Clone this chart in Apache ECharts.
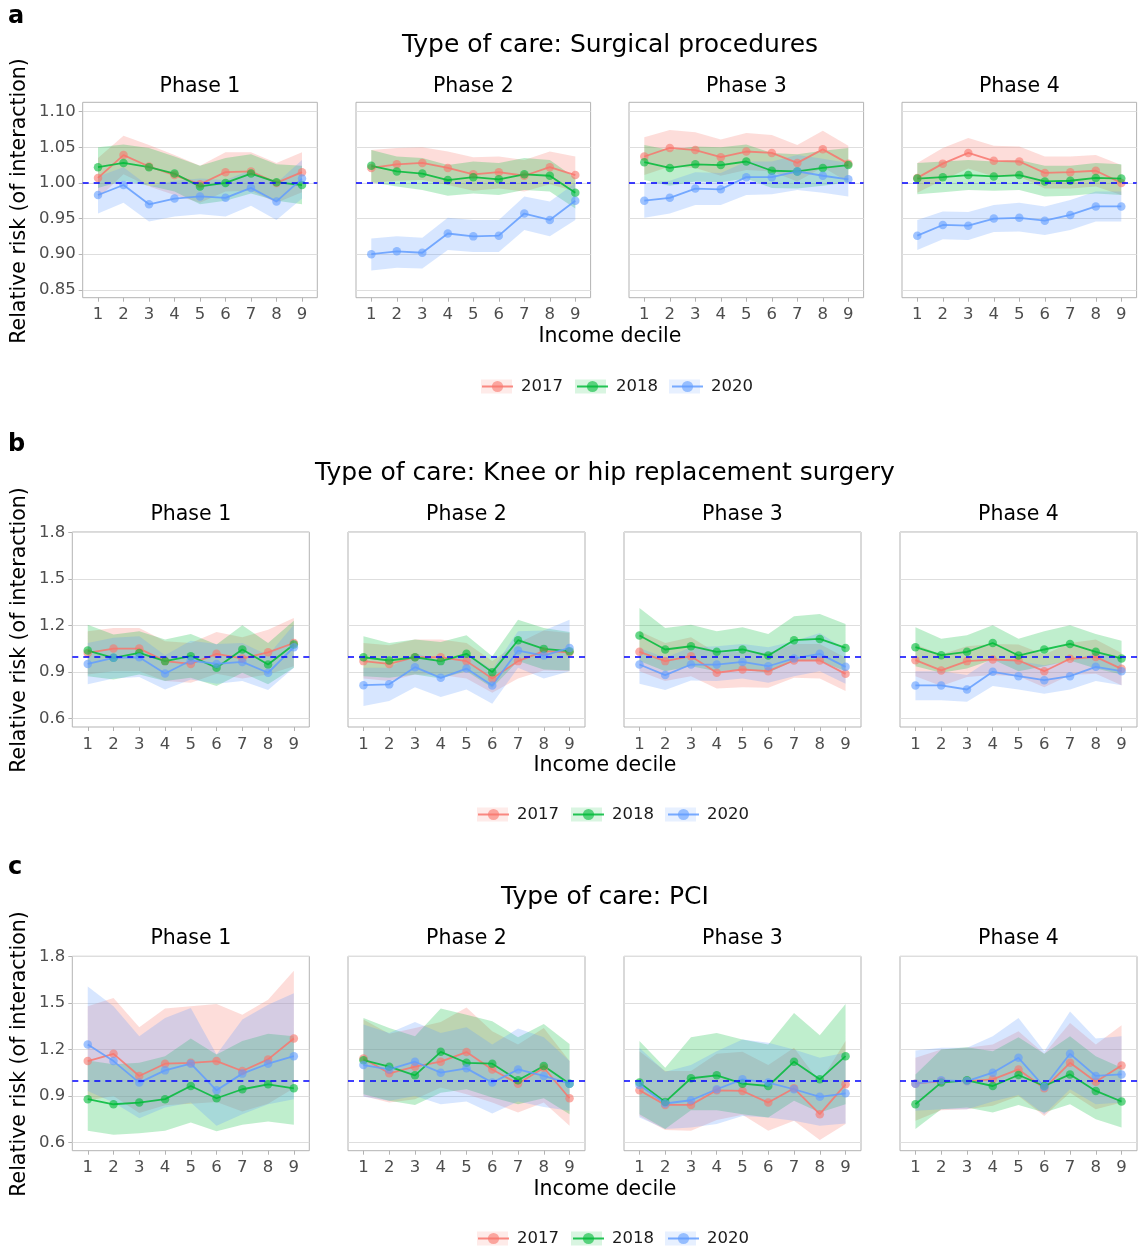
<!DOCTYPE html>
<html>
<head>
<meta charset="utf-8">
<script src="https://cdn.jsdelivr.net/npm/echarts@6/dist/echarts.min.js"></script>
<style>
  html, body { margin: 0; background: #fff; }
  #chart { width: 1141px; height: 1247px; }
</style>
</head>
<body>
<div id="chart"></div>
<script>
var deciles = [1, 2, 3, 4, 5, 6, 7, 8, 9];
var years = ['2017', '2018', '2020'];
var phases = ['Phase 1', 'Phase 2', 'Phase 3', 'Phase 4'];
var ticksA = [0.85, 0.90, 0.95, 1.00, 1.05, 1.10];
var ticksBC = [0.6, 0.9, 1.2, 1.5, 1.8];

// a: surgical procedures  (one row per phase)
var surgEst2017 = [
  [1.007, 1.039, 1.023, 1.011, 0.998, 1.015, 1.016, 1.000, 1.015],
  [1.021, 1.026, 1.028, 1.021, 1.012, 1.015, 1.010, 1.022, 1.011],
  [1.037, 1.049, 1.046, 1.036, 1.044, 1.042, 1.028, 1.047, 1.027],
  [1.007, 1.027, 1.042, 1.031, 1.030, 1.014, 1.015, 1.017, 1.000]];
var surgLo2017 = [
  [0.978, 1.012, 0.995, 0.983, 0.972, 0.988, 0.989, 0.972, 0.987],
  [1.000, 1.003, 1.004, 0.997, 0.989, 0.992, 0.988, 0.998, 0.988],
  [1.011, 1.023, 1.021, 1.010, 1.018, 1.016, 1.002, 1.022, 1.001],
  [0.986, 1.004, 1.020, 1.009, 1.009, 0.992, 0.992, 0.995, 0.983]];
var surgHi2017 = [
  [1.035, 1.066, 1.053, 1.039, 1.024, 1.043, 1.043, 1.028, 1.043],
  [1.046, 1.049, 1.050, 1.044, 1.036, 1.037, 1.032, 1.044, 1.037],
  [1.064, 1.074, 1.071, 1.061, 1.070, 1.067, 1.053, 1.073, 1.052],
  [1.028, 1.049, 1.063, 1.052, 1.051, 1.037, 1.037, 1.039, 1.025]];
var surgEst2018 = [
  [1.022, 1.028, 1.022, 1.013, 0.995, 1.000, 1.013, 1.001, 0.997],
  [1.024, 1.016, 1.013, 1.004, 1.008, 1.005, 1.012, 1.010, 0.986],
  [1.029, 1.021, 1.026, 1.025, 1.030, 1.017, 1.016, 1.021, 1.025],
  [1.006, 1.008, 1.011, 1.009, 1.011, 1.002, 1.003, 1.007, 1.006]];
var surgLo2018 = [
  [0.993, 1.003, 0.996, 0.988, 0.970, 0.975, 0.985, 0.975, 0.970],
  [1.001, 0.995, 0.990, 0.982, 0.985, 0.983, 0.990, 0.988, 0.964],
  [1.004, 0.996, 1.002, 1.001, 1.006, 0.993, 0.992, 0.996, 1.001],
  [0.984, 0.987, 0.990, 0.989, 0.990, 0.981, 0.982, 0.985, 0.983]];
var surgHi2018 = [
  [1.050, 1.054, 1.049, 1.037, 1.024, 1.035, 1.040, 1.026, 1.024],
  [1.046, 1.037, 1.035, 1.025, 1.030, 1.028, 1.035, 1.032, 1.007],
  [1.053, 1.046, 1.051, 1.050, 1.054, 1.042, 1.040, 1.045, 1.049],
  [1.028, 1.030, 1.032, 1.030, 1.032, 1.024, 1.024, 1.028, 1.026]];
var surgEst2020 = [
  [0.983, 0.997, 0.970, 0.978, 0.981, 0.979, 0.993, 0.974, 1.006],
  [0.900, 0.904, 0.902, 0.929, 0.925, 0.926, 0.957, 0.948, 0.975],
  [0.975, 0.979, 0.992, 0.991, 1.008, 1.008, 1.016, 1.010, 1.005],
  [0.926, 0.941, 0.940, 0.950, 0.951, 0.947, 0.955, 0.967, 0.967]];
var surgLo2020 = [
  [0.957, 0.972, 0.946, 0.953, 0.956, 0.953, 0.968, 0.948, 0.978],
  [0.877, 0.881, 0.880, 0.906, 0.903, 0.903, 0.934, 0.925, 0.948],
  [0.951, 0.957, 0.969, 0.969, 0.983, 0.984, 0.990, 0.986, 0.981],
  [0.906, 0.921, 0.920, 0.931, 0.932, 0.927, 0.934, 0.946, 0.946]];
var surgHi2020 = [
  [1.009, 1.022, 0.995, 1.003, 1.006, 1.004, 1.018, 1.000, 1.032],
  [0.922, 0.925, 0.923, 0.951, 0.948, 0.948, 0.981, 0.974, 1.000],
  [1.000, 1.003, 1.015, 1.014, 1.030, 1.030, 1.039, 1.034, 1.028],
  [0.948, 0.960, 0.959, 0.969, 0.972, 0.967, 0.976, 0.988, 0.988]];

// b: knee or hip replacement
var kneeEst2017 = [
  [1.022, 1.050, 1.050, 0.969, 0.951, 1.016, 0.986, 1.026, 1.086],
  [0.969, 0.951, 0.994, 0.994, 0.969, 0.857, 0.969, 1.033, 1.026],
  [1.029, 0.969, 1.001, 0.894, 0.915, 0.904, 0.973, 0.973, 0.887],
  [0.975, 0.909, 0.969, 0.979, 0.973, 0.904, 0.984, 0.996, 0.919]];
var kneeLo2017 = [
  [0.883, 0.904, 0.904, 0.840, 0.829, 0.887, 0.857, 0.883, 0.936],
  [0.857, 0.840, 0.883, 0.879, 0.857, 0.765, 0.857, 0.909, 0.904],
  [0.904, 0.840, 0.872, 0.793, 0.801, 0.797, 0.861, 0.857, 0.776],
  [0.872, 0.808, 0.866, 0.879, 0.872, 0.801, 0.879, 0.887, 0.814]];
var kneeHi2017 = [
  [1.161, 1.183, 1.183, 1.097, 1.086, 1.157, 1.123, 1.172, 1.247],
  [1.086, 1.071, 1.108, 1.108, 1.086, 0.969, 1.086, 1.166, 1.151],
  [1.161, 1.086, 1.123, 1.022, 1.033, 1.022, 1.080, 1.080, 0.990],
  [1.076, 1.011, 1.065, 1.080, 1.076, 1.011, 1.086, 1.108, 1.022]];
var kneeEst2018 = [
  [1.037, 0.990, 1.022, 0.969, 1.001, 0.926, 1.044, 0.947, 1.076],
  [0.994, 0.973, 0.994, 0.969, 1.016, 0.898, 1.104, 1.048, 1.033],
  [1.134, 1.044, 1.065, 1.029, 1.044, 1.005, 1.104, 1.112, 1.054],
  [1.059, 1.007, 1.029, 1.086, 1.005, 1.044, 1.080, 1.029, 0.986]];
var kneeLo2018 = [
  [0.872, 0.851, 0.883, 0.840, 0.861, 0.808, 0.894, 0.819, 0.926],
  [0.872, 0.861, 0.883, 0.857, 0.904, 0.797, 0.969, 0.915, 0.909],
  [0.969, 0.904, 0.936, 0.904, 0.915, 0.894, 0.969, 0.969, 0.904],
  [0.936, 0.894, 0.921, 0.979, 0.904, 0.936, 0.973, 0.921, 0.883]];
var kneeHi2018 = [
  [1.204, 1.140, 1.161, 1.108, 1.144, 1.076, 1.200, 1.086, 1.230],
  [1.129, 1.086, 1.108, 1.093, 1.136, 1.001, 1.236, 1.183, 1.157],
  [1.311, 1.183, 1.204, 1.161, 1.187, 1.144, 1.258, 1.273, 1.209],
  [1.187, 1.114, 1.136, 1.200, 1.114, 1.161, 1.200, 1.144, 1.101]];
var kneeEst2020 = [
  [0.951, 0.990, 0.994, 0.889, 0.973, 0.951, 0.964, 0.894, 1.059],
  [0.814, 0.819, 0.930, 0.861, 0.921, 0.812, 1.037, 1.005, 1.054],
  [0.947, 0.879, 0.947, 0.947, 0.964, 0.936, 0.986, 1.016, 0.932],
  [0.812, 0.812, 0.786, 0.900, 0.872, 0.846, 0.872, 0.932, 0.904]];
var kneeLo2020 = [
  [0.819, 0.857, 0.866, 0.786, 0.851, 0.823, 0.840, 0.782, 0.926],
  [0.679, 0.711, 0.801, 0.737, 0.786, 0.694, 0.926, 0.857, 0.904],
  [0.823, 0.782, 0.844, 0.840, 0.857, 0.829, 0.872, 0.904, 0.823],
  [0.716, 0.716, 0.707, 0.808, 0.786, 0.759, 0.786, 0.840, 0.814]];
var kneeHi2020 = [
  [1.086, 1.119, 1.129, 1.007, 1.101, 1.080, 1.086, 1.007, 1.204],
  [0.926, 0.926, 1.022, 0.969, 1.022, 0.915, 1.161, 1.166, 1.236],
  [1.054, 0.990, 1.059, 1.065, 1.080, 1.059, 1.097, 1.151, 1.044],
  [0.904, 0.904, 0.879, 0.990, 0.969, 0.943, 0.969, 1.022, 0.994]];

// c: PCI
var pciEst2017 = [
  [1.125, 1.172, 1.029, 1.108, 1.114, 1.125, 1.061, 1.136, 1.271],
  [1.142, 1.046, 1.089, 1.121, 1.183, 1.071, 0.979, 1.082, 0.885],
  [0.936, 0.842, 0.842, 0.936, 0.932, 0.857, 0.949, 0.782, 0.975],
  [0.979, 0.996, 0.996, 1.007, 1.071, 0.949, 1.114, 0.992, 1.097]];
var pciLo2017 = [
  [0.870, 0.900, 0.790, 0.840, 0.850, 0.860, 0.800, 0.850, 0.950],
  [0.900, 0.857, 0.879, 0.954, 0.911, 0.857, 0.793, 0.857, 0.707],
  [0.771, 0.679, 0.675, 0.744, 0.778, 0.675, 0.739, 0.615, 0.718],
  [0.739, 0.808, 0.814, 0.836, 0.900, 0.771, 0.921, 0.814, 0.857]];
var pciHi2017 = [
  [1.480, 1.532, 1.344, 1.464, 1.479, 1.494, 1.425, 1.521, 1.708],
  [1.393, 1.301, 1.339, 1.378, 1.472, 1.318, 1.232, 1.339, 1.125],
  [1.189, 1.061, 1.061, 1.172, 1.185, 1.099, 1.211, 0.986, 1.254],
  [1.146, 1.200, 1.211, 1.232, 1.318, 1.172, 1.371, 1.232, 1.356]];
var pciEst2018 = [
  [0.879, 0.846, 0.857, 0.879, 0.964, 0.885, 0.943, 0.975, 0.949],
  [1.131, 1.089, 1.033, 1.185, 1.114, 1.108, 1.001, 1.093, 0.979],
  [0.986, 0.861, 1.014, 1.033, 0.979, 0.964, 1.121, 1.007, 1.157],
  [0.846, 0.986, 1.001, 0.964, 1.035, 0.964, 1.039, 0.932, 0.864]];
var pciLo2018 = [
  [0.675, 0.649, 0.658, 0.675, 0.729, 0.671, 0.714, 0.735, 0.714],
  [0.911, 0.868, 0.842, 0.921, 0.943, 0.889, 0.846, 0.885, 0.782],
  [0.782, 0.686, 0.808, 0.808, 0.782, 0.761, 0.868, 0.793, 0.846],
  [0.686, 0.814, 0.825, 0.793, 0.842, 0.793, 0.846, 0.750, 0.696]];
var pciHi2018 = [
  [1.129, 1.104, 1.114, 1.157, 1.271, 1.168, 1.254, 1.301, 1.286],
  [1.404, 1.339, 1.286, 1.464, 1.425, 1.382, 1.279, 1.365, 1.236],
  [1.254, 1.082, 1.279, 1.307, 1.264, 1.232, 1.436, 1.292, 1.494],
  [1.039, 1.200, 1.215, 1.189, 1.279, 1.172, 1.286, 1.157, 1.082]];
var pciEst2020 = [
  [1.232, 1.125, 0.986, 1.065, 1.108, 0.936, 1.044, 1.108, 1.157],
  [1.099, 1.071, 1.121, 1.050, 1.078, 0.986, 1.071, 1.029, 0.979],
  [0.971, 0.851, 0.872, 0.943, 1.007, 0.986, 0.943, 0.894, 0.917],
  [0.979, 1.001, 0.996, 1.050, 1.146, 0.958, 1.172, 1.029, 1.039]];
var pciLo2020 = [
  [0.932, 0.857, 0.756, 0.825, 0.857, 0.707, 0.782, 0.846, 0.879],
  [0.894, 0.868, 0.900, 0.846, 0.864, 0.786, 0.864, 0.829, 0.804],
  [0.761, 0.686, 0.696, 0.718, 0.771, 0.761, 0.739, 0.707, 0.722],
  [0.804, 0.814, 0.814, 0.864, 0.906, 0.782, 0.943, 0.846, 0.857]];
var pciHi2020 = [
  [1.607, 1.479, 1.286, 1.404, 1.468, 1.168, 1.393, 1.489, 1.564],
  [1.361, 1.307, 1.378, 1.307, 1.344, 1.232, 1.335, 1.279, 1.125],
  [1.211, 1.056, 1.099, 1.189, 1.264, 1.243, 1.200, 1.146, 1.179],
  [1.194, 1.211, 1.211, 1.286, 1.404, 1.189, 1.446, 1.271, 1.286]];

var colors = ['#F8766D', '#00BA38', '#619CFF'];
var bandColors = ['rgba(248,118,109,0.25)', 'rgba(0,186,56,0.25)', 'rgba(97,156,255,0.25)'];
var FONT = 'DejaVu Sans';

var panels = [
  { letter: 'a', letterY: 17, title: 'Type of care: Surgical procedures', titleX: 610, titleY: 45,
    est: [surgEst2017, surgEst2018, surgEst2020], lo: [surgLo2017, surgLo2018, surgLo2020], hi: [surgHi2017, surgHi2018, surgHi2020],
    ticks: ticksA, digits: 2, min: 0.839, max: 1.113,
    top: 102.3, height: 195.4, lefts: [82.7, 356, 629, 902], width: 234.6,
    stripY: 87, xlabY: 337, yTitleY: 201, legendLeft: 481, legendY: 385 },
  { letter: 'b', letterY: 445, title: 'Type of care: Knee or hip replacement surgery', titleX: 605, titleY: 473,
    est: [kneeEst2017, kneeEst2018, kneeEst2020], lo: [kneeLo2017, kneeLo2018, kneeLo2020], hi: [kneeHi2017, kneeHi2018, kneeHi2020],
    ticks: ticksBC, digits: 1, min: 0.544, max: 1.802,
    top: 532, height: 195, lefts: [72.3, 348, 624, 900], width: 237,
    stripY: 515, xlabY: 766, yTitleY: 630, legendLeft: 477, legendY: 813 },
  { letter: 'c', letterY: 868, title: 'Type of care: PCI', titleX: 605, titleY: 897,
    est: [pciEst2017, pciEst2018, pciEst2020], lo: [pciLo2017, pciLo2018, pciLo2020], hi: [pciHi2017, pciHi2018, pciHi2020],
    ticks: ticksBC, digits: 1, min: 0.546, max: 1.802,
    top: 956.3, height: 194.4, lefts: [72.3, 348, 624, 900], width: 237,
    stripY: 939, xlabY: 1190, yTitleY: 1054, legendLeft: 477, legendY: 1237 }
];

var grids = [], xAxes = [], yAxes = [], series = [], graphics = [], legends = [];

function bandRender(color) {
  return function (params, api) {
    if (params.dataIndexInside !== 0) return null;
    var up = [], dn = [];
    for (var i = 0; i < params.dataInsideLength; i++) {
      up.push(api.coord([api.value(0, i), api.value(2, i)]));
      dn.unshift(api.coord([api.value(0, i), api.value(1, i)]));
    }
    return { type: 'polygon', shape: { points: up.concat(dn) }, style: { fill: color, opacity: 0.25 } };
  };
}

function txt(text, x, y, size, opts) {
  opts = opts || {};
  graphics.push({
    type: 'text', x: x, y: y, rotation: opts.rotation || 0, silent: true,
    style: { text: text, fill: opts.color || '#000', align: opts.align || 'center', verticalAlign: 'middle',
      font: (opts.bold ? 'bold ' : '') + size + 'px "' + FONT + '"' }
  });
}

panels.forEach(function (p) {
  txt(p.letter, 8, p.letterY, 24, { bold: true, align: 'left' });
  txt(p.title, p.titleX, p.titleY, 25);
  txt('Income decile', p.titleX, p.xlabY, 20.5);
  txt('Relative risk (of interaction)', 20, p.yTitleY, 20.5, { rotation: Math.PI / 2 });

  phases.forEach(function (ph, j) {
    var g = grids.length;
    grids.push({ left: p.lefts[j], top: p.top, width: p.width, height: p.height,
      show: true, borderColor: '#b3b3b3', borderWidth: 1, backgroundColor: 'transparent' });
    txt(ph, p.lefts[j] + p.width / 2, p.stripY, 20.5);

    xAxes.push({ type: 'value', gridIndex: g, min: 0.4, max: 9.6,
      axisLine: { show: false },
      axisTick: { show: true, length: 4, customValues: deciles, lineStyle: { color: '#b3b3b3' } },
      axisLabel: { customValues: deciles, color: '#4d4d4d', fontSize: 16.5, fontFamily: FONT, margin: 9 },
      splitLine: { show: false } });
    yAxes.push({ type: 'value', gridIndex: g, min: p.min, max: p.max,
      axisLine: { show: false },
      axisTick: { show: j === 0, length: 4, customValues: p.ticks, lineStyle: { color: '#b3b3b3' } },
      axisLabel: { show: j === 0, customValues: p.ticks, color: '#4d4d4d', fontSize: 16.5, fontFamily: FONT, margin: 7,
        formatter: function (v) { return v.toFixed(p.digits); } },
      splitLine: { show: true, lineStyle: { color: '#dedede', width: 1 } } });

    years.forEach(function (yr, k) {
      var line = {
        type: 'line', name: yr, xAxisIndex: g, yAxisIndex: g, z: 3,
        data: deciles.map(function (d, i) { return [d, p.est[k][j][i]]; }),
        symbol: 'circle', symbolSize: 8.5, showSymbol: true,
        lineStyle: { color: colors[k], width: 1.8, opacity: 0.85 },
        itemStyle: { color: colors[k], opacity: 0.6 },
        emphasis: { disabled: true }, silent: true
      };
      if (k === 2) {
        line.markLine = { silent: true, symbol: ['none', 'none'], label: { show: false },
          lineStyle: { color: '#0000ff', type: [6, 5], width: 1.5 }, data: [{ yAxis: 1 }] };
      }
      series.push(line);
    });
    years.forEach(function (yr, k) {
      series.push({
        type: 'custom', name: yr, xAxisIndex: g, yAxisIndex: g, z: 1, silent: true,
        data: deciles.map(function (d, i) { return [d, p.lo[k][j][i], p.hi[k][j][i]]; }),
        encode: { x: 0, y: [1, 2] },
        renderItem: bandRender(colors[k])
      });
    });
  });

  var legendBase = { left: p.legendLeft, top: p.legendY - 7, orient: 'horizontal',
    itemWidth: 31, itemHeight: 14, itemGap: 13, padding: 0, selectedMode: false };
  // key background: the ribbon fill
  legends.push(Object.assign({}, legendBase, { z: 3,
    data: years.map(function (yr, k) { return { name: yr, icon: 'rect', itemStyle: { color: bandColors[k], borderWidth: 0 } }; }),
    textStyle: { fontSize: 16.5, color: 'rgba(0,0,0,0)', fontFamily: FONT, padding: [0, 0, 0, 3] } }));
  // key foreground: line + point
  legends.push(Object.assign({}, legendBase, { z: 4, data: years,
    textStyle: { fontSize: 16.5, color: '#1a1a1a', fontFamily: FONT, padding: [0, 0, 0, 3] } }));
});

var chart = echarts.init(document.getElementById('chart'));
chart.setOption({
  animation: false,
  backgroundColor: '#fff',
  grid: grids, xAxis: xAxes, yAxis: yAxes,
  legend: legends, series: series, graphic: graphics
});
</script>
</body>
</html>
